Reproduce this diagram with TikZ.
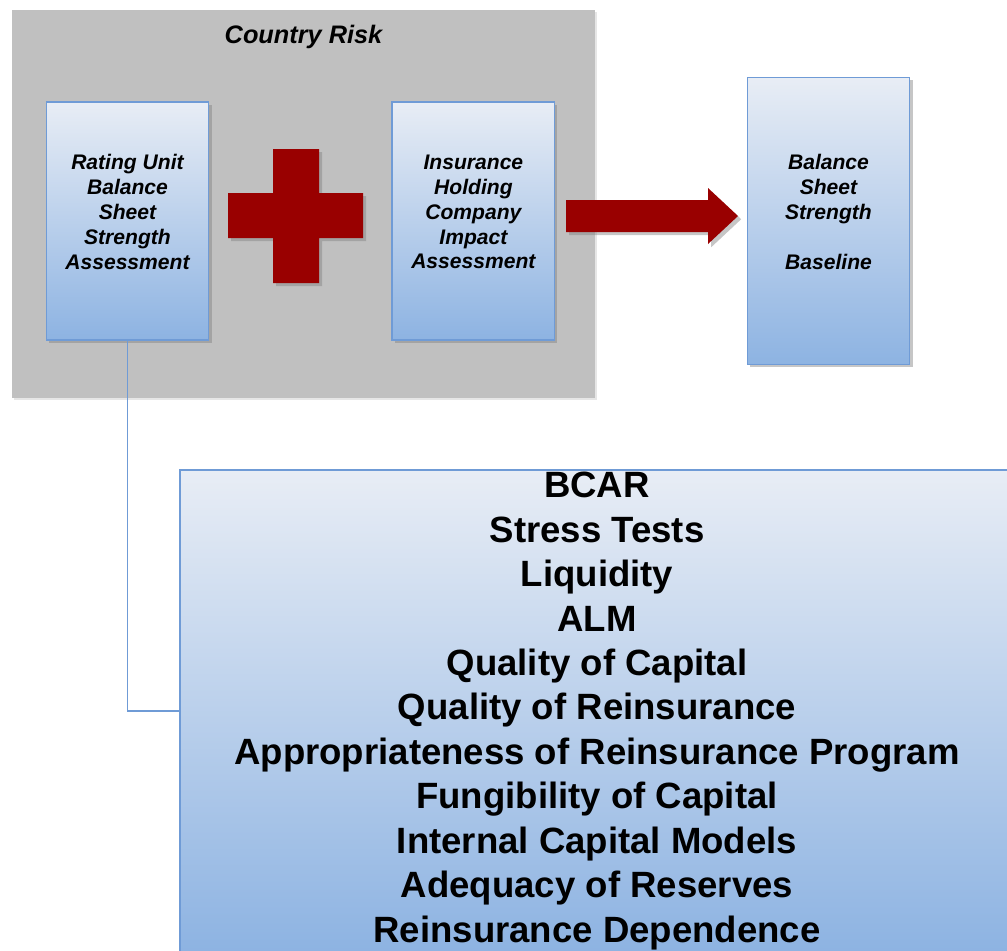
\documentclass[tikz,border=0pt]{standalone}
\usepackage{fontspec}
\newfontfamily\arialfont{Liberation Sans}
\usetikzlibrary{positioning}
\usetikzlibrary{shadows}

\definecolor{riskgrey}{HTML}{C0C0C0}
\definecolor{boxtop}{HTML}{E8EDF5}
\definecolor{boxbottom}{HTML}{8DB3E2}
\definecolor{boxline}{HTML}{6F9BD6}
\definecolor{plusred}{HTML}{990000}

\begin{document}
\begin{tikzpicture}[
		x=0.025cm, y=-0.025cm,
		mybox/.style={
			rectangle,
			draw=boxline,
			line width=1pt,
			top color=boxtop,
			bottom color=boxbottom,
			minimum width=4.06cm,
			align=center,
			font={\arialfont\bfseries\itshape\fontsize{15}{17.7}\selectfont},
			drop shadow={shadow xshift=0.07cm, shadow yshift=-0.07cm, opacity=0.45}
		},
		stepbox/.style={
			mybox,
			text depth=13pt
		},
		redshape/.style={
			fill=plusred,
			drop shadow={shadow xshift=0.08cm, shadow yshift=-0.08cm, opacity=0.45}
		},
		link/.style={
			draw=boxline,
			line width=1.1pt
		}
		]
		
		\useasboundingbox (0,0) rectangle (1007,950);
		\clip (0,0) rectangle (1007,950);
		
		\node[
		shape=rectangle,
		fill=riskgrey,
		minimum width=14.575cm,
		minimum height=9.7cm,
		drop shadow={shadow xshift=0.05cm, shadow yshift=-0.05cm, opacity=0.2}
		] (country) at (303.5,204) {};
		
		\node[
		below=0.27cm of country.north,
		font={\arialfont\bfseries\itshape\fontsize{18}{21}\selectfont}
		] (title) {Country Risk};
		
		\node[stepbox, minimum height=5.95cm] (ratingunit) at (127.5,221)
		{Rating Unit\\
			Balance\\
			Sheet\\
			Strength\\
			Assessment};
		
		\node[stepbox, minimum height=5.95cm, right=4.55cm of ratingunit] (holding)
		{Insurance\\
			Holding\\
			Company\\
			Impact\\
			Assessment};
		
		\node[stepbox, minimum height=7.175cm, right=4.78cm of holding] (baseline)
		{Balance\\
			Sheet\\
			Strength\\
			\\
			Baseline};
		
		\node[
		mybox,
		minimum width=20.85cm,
		minimum height=12.05cm,
		inner ysep=0pt,
		font={\arialfont\bfseries\fontsize{26}{31.6}\selectfont}
		] (factors) at (597,711)
		{BCAR\\
			Stress Tests\\
			Liquidity\\
			ALM\\
			Quality of Capital\\
			Quality of Reinsurance\\
			Appropriateness of Reinsurance Program\\
			Fungibility of Capital\\
			Internal Capital Models\\
			Adequacy of Reserves\\
			Reinsurance Dependence};
		
		%%%%%%%%%%
		
		\path[redshape] (273,149) -- (319,149) -- (319,193) -- (363,193) -- (363,238)
		-- (319,238) -- (319,283) -- (273,283) -- (273,238) -- (228,238)
		-- (228,193) -- (273,193) -- cycle;
		
		\path[redshape] (566,200) -- (708,200) -- (708,188) -- (738,216)
		-- (708,244) -- (708,232) -- (566,232) -- cycle;
		
		\draw[link] (ratingunit.south) |- (factors.west);
		
	\end{tikzpicture}
\end{document}
